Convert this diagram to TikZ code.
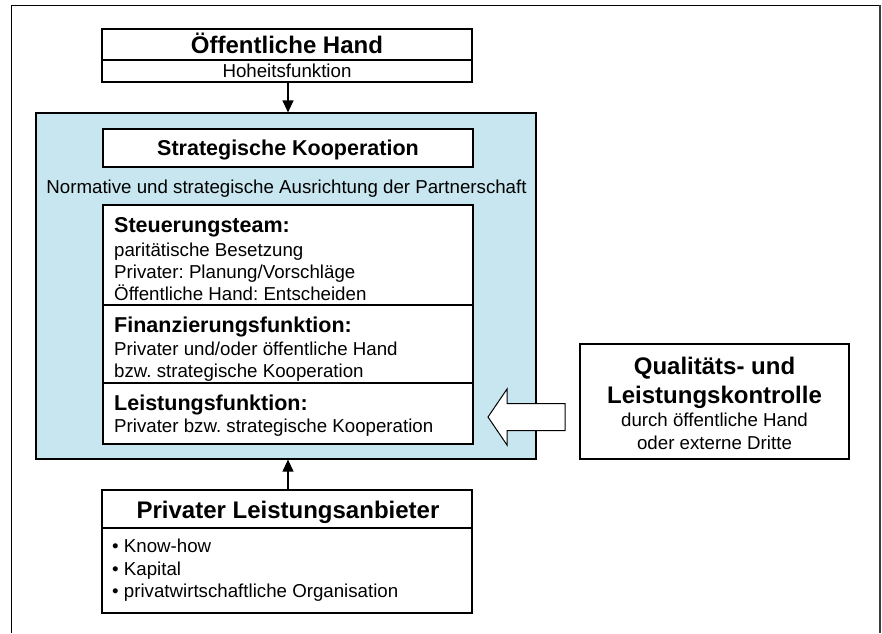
\documentclass[tikz,border=0pt]{standalone}
\usepackage{fontspec}
\setmainfont{Liberation Sans}
\usetikzlibrary{arrows.meta}
\definecolor{lightblue}{RGB}{200,230,240}
\definecolor{framegray}{RGB}{60,60,60}
\frenchspacing
\begin{document}
\begin{tikzpicture}[x=1pt,y=-1pt,
  box/.style={draw=black,line width=1.2pt,fill=white,inner sep=0pt},
  big/.style={font=\fontsize{24}{28}\selectfont\bfseries,inner sep=0pt},
  mid/.style={font=\fontsize{21.5}{25}\selectfont\bfseries,inner sep=0pt},
  txt/.style={font=\fontsize{18.7}{22}\selectfont,inner sep=0pt},
  conn/.style={line width=1.2pt,-{Triangle[length=12pt,width=11pt]}}]
\useasboundingbox (0,0) rectangle (882,633);
% outer frame
\draw[line width=1pt,black] (11,633) -- (11,5) -- (880,5);
\draw[line width=2pt,framegray] (880,5) -- (880,633);
% Öffentliche Hand
\node[box,minimum width=370pt,minimum height=53pt] (oh) at (287,55.5) {};
\draw[line width=1.2pt] (102,60) -- (472,60);
\node[big,anchor=base] (ohT) at (287,53) {Öffentliche Hand};
\node[txt,anchor=base] (ohS) at (287,77) {Hoheitsfunktion};
% blue box
\node[draw=black,line width=1.2pt,fill=lightblue,minimum width=500pt,minimum height=346pt,inner sep=0pt] (blue) at (286,286) {};
\node[box,minimum width=370pt,minimum height=38pt] (sk) at (288,148) {};
\node[mid,anchor=base] (skT) at (288,155) {Strategische Kooperation};
\node[txt,anchor=base] (norm) at (286.5,193) {Normative und strategische Ausrichtung der Partnerschaft};
% inner stack
\node[box,minimum width=370pt,minimum height=239pt] (stack) at (288,324.5) {};
\draw[line width=1.2pt] (103,305) -- (473,305);
\draw[line width=1.2pt] (103,383) -- (473,383);
\node[mid,anchor=base west] (st1) at (114,232) {Steuerungsteam:};
\node[txt,anchor=base west] (st2) at (114,256.5) {paritätische Besetzung};
\node[txt,anchor=base west] (st3) at (114,278) {Privater: Planung/Vorschläge};
\node[txt,anchor=base west] (st4) at (114,300) {Öffentliche Hand: Entscheiden};
\node[mid,anchor=base west] (fi1) at (114,332) {Finanzierungsfunktion:};
\node[txt,anchor=base west] (fi2) at (114,355) {Privater und/oder öffentliche Hand};
\node[txt,anchor=base west] (fi3) at (114,377) {bzw. strategische Kooperation};
\node[mid,anchor=base west] (le1) at (114,410) {Leistungsfunktion:};
\node[txt,anchor=base west] (le2) at (114,432) {Privater bzw. strategische Kooperation};
% Privater Leistungsanbieter
\node[box,minimum width=370pt,minimum height=123pt] (pl) at (287,551.5) {};
\draw[line width=1.2pt] (102,528) -- (472,528);
\node[big,anchor=base] (plT) at (288,518) {Privater Leistungsanbieter};
\node[txt,anchor=base west] (pl1) at (112,552) {• Know-how};
\node[txt,anchor=base west] (pl2) at (112,575) {• Kapital};
\node[txt,anchor=base west] (pl3) at (112,597) {• privatwirtschaftliche Organisation};
% Qualitäts- und Leistungskontrolle
\node[box,minimum width=269pt,minimum height=115pt] (ql) at (714.5,401.5) {};
\node[big,anchor=base] (ql1) at (714.5,374) {Qualitäts- und};
\node[big,anchor=base] (ql2) at (714.5,403) {Leistungskontrolle};
\node[txt,anchor=base] (ql3) at (714.5,426) {durch öffentliche Hand};
\node[txt,anchor=base] (ql4) at (714.5,449) {oder externe Dritte};
% block arrow
\draw[line width=1pt,fill=white,line join=miter] (565,403.5) -- (507,403.5) -- (507,389) -- (488,417) -- (507,445) -- (507,430.5) -- (565,430.5) -- cycle;
% connectors
\draw[conn] (oh.south -| 288,0) -- (blue.north -| 288,0);
\draw[conn] (pl.north -| 288,0) -- (blue.south -| 288,0);
\end{tikzpicture}
\end{document}
